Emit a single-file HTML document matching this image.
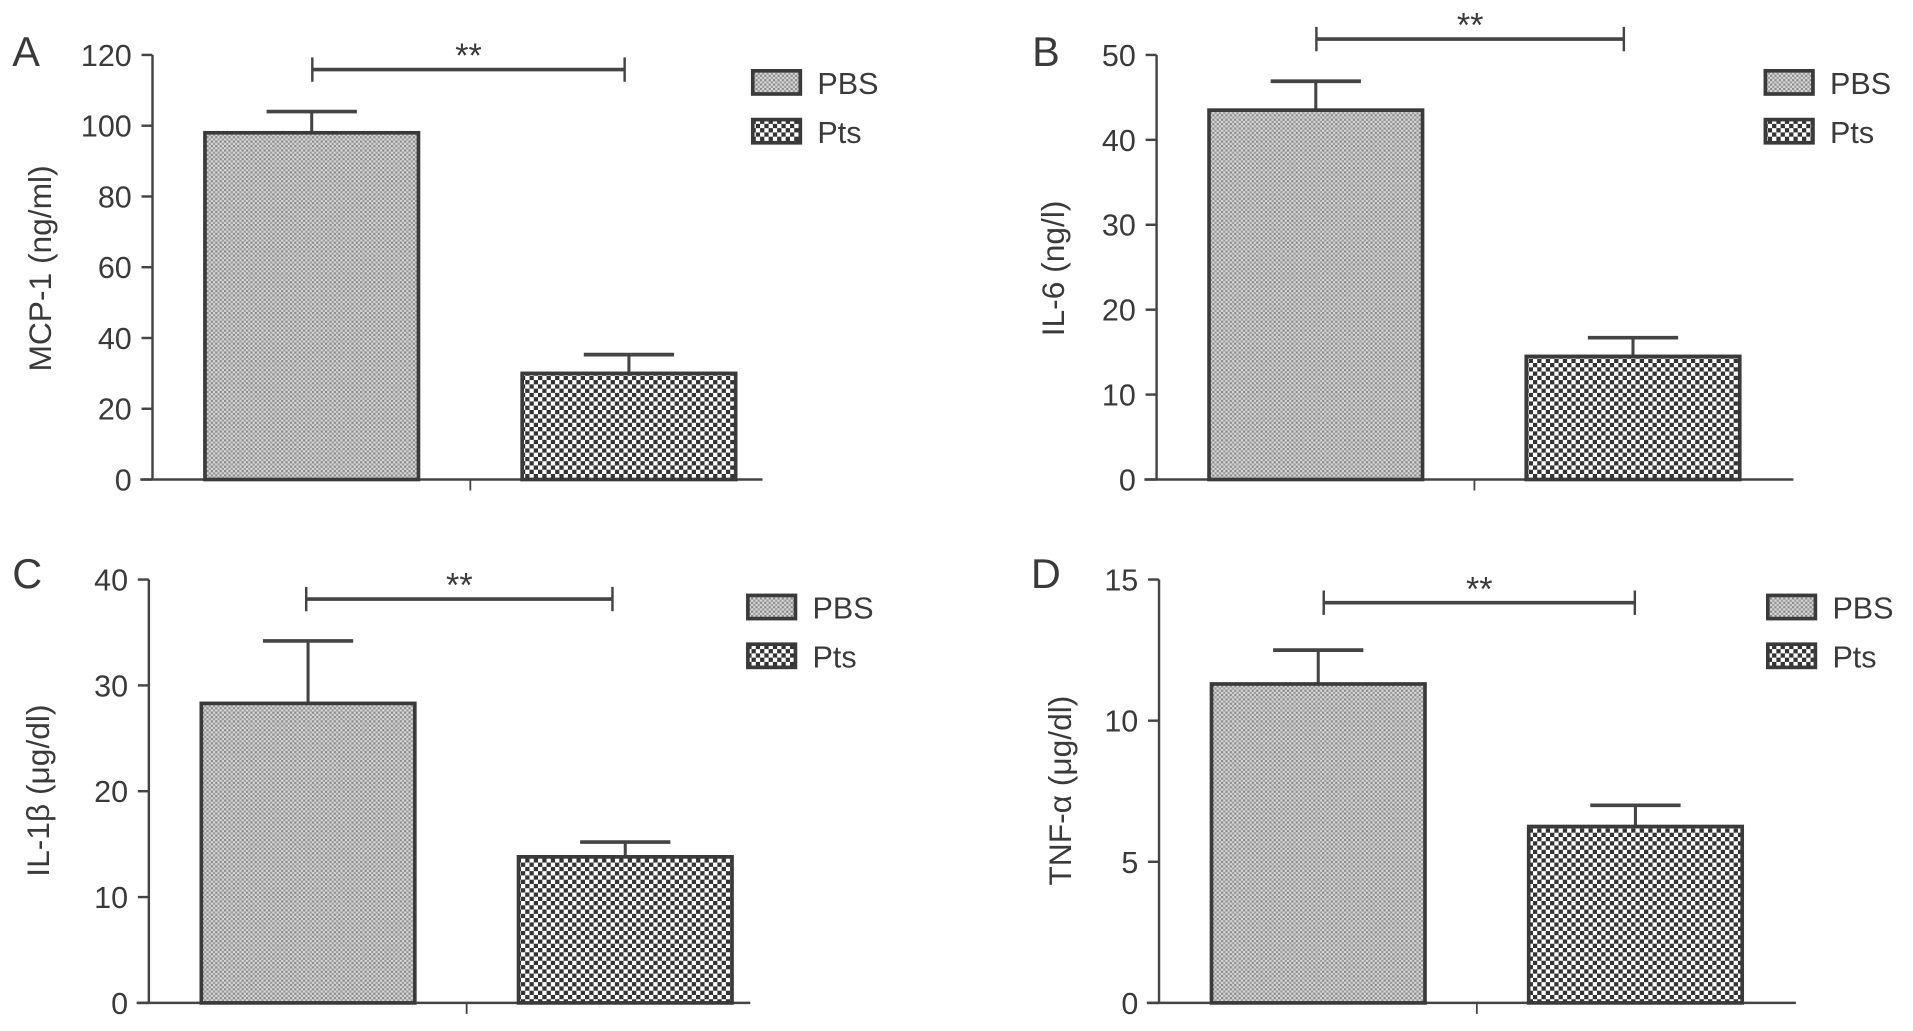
<!DOCTYPE html>
<html><head><meta charset="utf-8">
<style>
html,body{margin:0;padding:0;background:#fff;}
svg{display:block;}
text{font-family:"Liberation Sans",sans-serif;fill:#3a3a3a;}
</style></head>
<body>
<svg id="chart" width="1913" height="1031" viewBox="0 0 1568 845" xmlns="http://www.w3.org/2000/svg">
<defs>
<pattern id="pbs" patternUnits="userSpaceOnUse" width="3.6" height="3.6">
<rect width="3.6" height="3.6" fill="#d8d8d8"/>
<rect width="1.8" height="1.8" fill="#888"/>
<rect x="1.8" y="1.8" width="1.8" height="1.8" fill="#999"/>
</pattern>
<pattern id="pts" patternUnits="userSpaceOnUse" width="7" height="7">
<rect width="7" height="7" fill="#fff"/>
<rect width="3.5" height="3.5" fill="#333"/>
<rect x="3.5" y="3.5" width="3.5" height="3.5" fill="#333"/>
</pattern>
</defs>
</svg>
<script>
const panelLetters = ["A","B","C","D"];
const yTitles = ["MCP-1 (ng/ml)","IL-6 (ng/l)","IL-1β (μg/dl)","TNF-α (μg/dl)"];
const categories = ["PBS","Pts"];
const yMax = [120,50,40,15];
const yTicks = [[0,20,40,60,80,100,120],[0,10,20,30,40,50],[0,10,20,30,40],[0,5,10,15]];
const pbsValues = [98,43.5,28.3,11.3];
const pbsErrors = [6,3.4,5.9,1.2];
const ptsValues = [30,14.5,13.8,6.25];
const ptsErrors = [5.3,2.2,1.4,0.75];
const sigLabels = ["**","**","**","**"];

const layouts = [
 {ax:125, top:45, bot:393, xEnd:625, sigY:57, sigX:[256,512], legX:617, legY:58, letX:10, letY:54, titleX:42, titleY:220},
 {ax:948, top:45, bot:393, xEnd:1470, sigY:32, sigX:[1079,1331], legX:1447, legY:58, letX:846, letY:54, titleX:872, titleY:220},
 {ax:122, top:475, bot:822, xEnd:615, sigY:491, sigX:[251,502], legX:613, legY:488, letX:10, letY:482, titleX:40, titleY:648},
 {ax:950, top:475, bot:822, xEnd:1472, sigY:494, sigX:[1085,1340], legX:1449, legY:488, letX:845, letY:482, titleX:878, titleY:648}
];
const NS="http://www.w3.org/2000/svg";
const svg=document.getElementById('chart');
function mk(tag,attrs,parent){const e=document.createElementNS(NS,tag);for(const k in attrs)e.setAttribute(k,attrs[k]);(parent||svg).appendChild(e);return e;}

for(let p=0;p<4;p++){
 const L=layouts[p];
 const g=mk('g',{});
 
 
 const y=v=>L.bot-(v/yMax[p])*(L.bot-L.top);
 const x0=L.ax+43, bw=175, gap=85;
 const xBar=i=>x0+i*(bw+gap);
 const lt=mk('text',{x:L.letX,y:L.letY,'font-size':34,fill:'#222'},g);lt.textContent=panelLetters[p];
 
 
 const tt=mk('text',{x:0,y:0,'font-size':26,'text-anchor':'middle',transform:`translate(${L.titleX},${L.titleY}) rotate(-90)`},g);tt.textContent=yTitles[p];
 
 
 const ya=mk('line',{x1:L.ax,y1:L.top,x2:L.ax,y2:L.bot,stroke:'#444','stroke-width':2},g);
 
 
 const xa=mk('line',{x1:L.ax-10,y1:L.bot,x2:L.xEnd,y2:L.bot,stroke:'#444','stroke-width':2},g);
 
 
 const tx=(xBar(0)+bw+xBar(1))/2;
 const xt=mk('line',{x1:tx,y1:L.bot,x2:tx,y2:L.bot+9,stroke:'#444','stroke-width':1.5},g);
 
 
 for(const t of yTicks[p]){
  const tl=mk('line',{x1:L.ax-9,y1:y(t),x2:L.ax,y2:y(t),stroke:'#444','stroke-width':2},g);
  
  
  const tl2=mk('text',{x:L.ax-17,y:y(t)+9,'font-size':25,'text-anchor':'end'},g);tl2.textContent=t;
  
  
 }
 const vals=[pbsValues[p],ptsValues[p]], errs=[pbsErrors[p],ptsErrors[p]], fills=['url(#pbs)','url(#pts)'];
 for(let i=0;i<2;i++){
  const bx=xBar(i), cx=bx+bw/2, top=y(vals[i]), et=y(vals[i]+errs[i]);
  const el=mk('line',{x1:cx,y1:et,x2:cx,y2:top,stroke:'#444','stroke-width':2.5},g);
  
  
  const ec=mk('line',{x1:cx-37,y1:et,x2:cx+37,y2:et,stroke:'#444','stroke-width':3},g);
  
  
  const r=mk('rect',{x:bx,y:top,width:bw,height:L.bot-top,fill:fills[i],stroke:'#3a3a3a','stroke-width':3},g);
  
  
 }
 const s1=mk('line',{x1:L.sigX[0],y1:L.sigY,x2:L.sigX[1],y2:L.sigY,stroke:'#444','stroke-width':3},g);
 
 
 for(const sx of L.sigX){
  const s=mk('line',{x1:sx,y1:L.sigY-10,x2:sx,y2:L.sigY+10,stroke:'#444','stroke-width':2},g);
  
  
 }
 const st=mk('text',{x:(L.sigX[0]+L.sigX[1])/2,y:L.sigY-2,'font-size':28,'text-anchor':'middle'},g);st.textContent=sigLabels[p];
 
 
 for(let i=0;i<2;i++){
  const ly=L.legY+i*40;
  const lr=mk('rect',{x:L.legX,y:ly,width:39,height:19,fill:fills[i],stroke:'#3a3a3a','stroke-width':3},g);
  
  
  const ltx=mk('text',{x:L.legX+53,y:ly+19,'font-size':25},g);ltx.textContent=categories[i];
  
  
 }
}
</script>
</body></html>
